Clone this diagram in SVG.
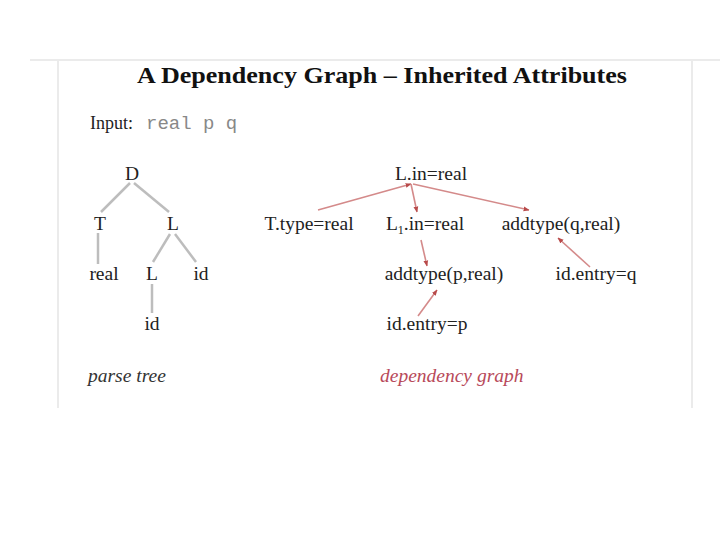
<svg xmlns="http://www.w3.org/2000/svg" width="720" height="540" viewBox="0 0 720 540">
<defs>
<style>
.t{font-family:"Liberation Serif","Times New Roman",serif;font-size:19.5px;fill:#222}
.pt{stroke:#bdbdbd;stroke-width:2.5;fill:none}
.dg{stroke:#d48a8a;stroke-width:1.6;fill:none;marker-end:url(#ah)}
.frame{stroke:#ebebeb;stroke-width:2;fill:none}
.cap{font-family:"Liberation Serif","Times New Roman",serif;font-size:19.5px;font-style:italic}
</style>
<marker id="ah" viewBox="0 0 10 10" refX="9" refY="5" markerWidth="6" markerHeight="6" orient="auto" markerUnits="userSpaceOnUse">
<path d="M0,1 L10,5 L0,9 Z" fill="#b84a4a"/>
</marker>
</defs>
<rect width="720" height="540" fill="#fff"/>
<g id="frame">
<line class="frame" x1="30" y1="60" x2="720" y2="60"/>
<line class="frame" x1="58" y1="60" x2="58" y2="408"/>
<line class="frame" x1="692" y1="60" x2="692" y2="408"/>
</g>
<text x="137" y="83" textLength="490" lengthAdjust="spacingAndGlyphs" font-family="Liberation Serif, Times New Roman, serif" font-size="24" font-weight="bold" fill="#111">A Dependency Graph – Inherited Attributes</text>
<text x="90" y="129" font-family="Liberation Serif, Times New Roman, serif" font-size="18" fill="#222">Input:</text>
<text x="146" y="129" font-family="Liberation Mono, Courier New, monospace" font-size="19" fill="#888">real p q</text>
<g id="parse-edges">
<line class="pt" x1="130" y1="183" x2="101" y2="212"/>
<line class="pt" x1="134" y1="183" x2="169" y2="212"/>
<line class="pt" x1="98" y1="233" x2="98" y2="264"/>
<line class="pt" x1="170" y1="234" x2="153" y2="262"/>
<line class="pt" x1="175" y1="234" x2="196" y2="262"/>
<line class="pt" x1="152" y1="284" x2="152" y2="313"/>
</g>
<g id="pt-D"><text class="t" x="132" y="180" text-anchor="middle">D</text></g>
<g id="pt-T"><text class="t" x="100" y="230" text-anchor="middle">T</text></g>
<g id="pt-L"><text class="t" x="173" y="230" text-anchor="middle">L</text></g>
<g id="pt-real"><text class="t" x="104" y="280" text-anchor="middle">real</text></g>
<g id="pt-L2"><text class="t" x="152" y="280" text-anchor="middle">L</text></g>
<g id="pt-id1"><text class="t" x="201" y="280" text-anchor="middle">id</text></g>
<g id="pt-id2"><text class="t" x="152" y="330" text-anchor="middle">id</text></g>
<g id="connectors">
<line class="dg" x1="318" y1="210" x2="411" y2="184"/>
<line class="dg" x1="411" y1="184" x2="417" y2="212"/>
<line class="dg" x1="413" y1="184" x2="529" y2="210"/>
<line class="dg" x1="421" y1="240" x2="427" y2="266"/>
<line class="dg" x1="418" y1="316" x2="437" y2="290"/>
<line class="dg" x1="590" y1="267" x2="558" y2="238"/>
</g>
<g id="n-Lin"><text class="t" x="431" y="180" text-anchor="middle">L.in=real</text></g>
<g id="n-Ttype"><text class="t" x="309" y="230" text-anchor="middle">T.type=real</text></g>
<g id="n-L1in"><text class="t" x="425" y="230" text-anchor="middle">L<tspan font-size="12" dy="4">1</tspan><tspan dy="-4">.in=real</tspan></text></g>
<g id="n-addq"><text class="t" x="561" y="230" text-anchor="middle">addtype(q,real)</text></g>
<g id="n-addp"><text class="t" x="444" y="280" text-anchor="middle">addtype(p,real)</text></g>
<g id="n-idq"><text class="t" x="596" y="280" text-anchor="middle">id.entry=q</text></g>
<g id="n-idp"><text class="t" x="427" y="330" text-anchor="middle">id.entry=p</text></g>
<text class="cap" x="88" y="382" fill="#333">parse tree</text>
<text class="cap" x="380" y="382" fill="#b84a5a" font-size="20.7">dependency graph</text>
</svg>
